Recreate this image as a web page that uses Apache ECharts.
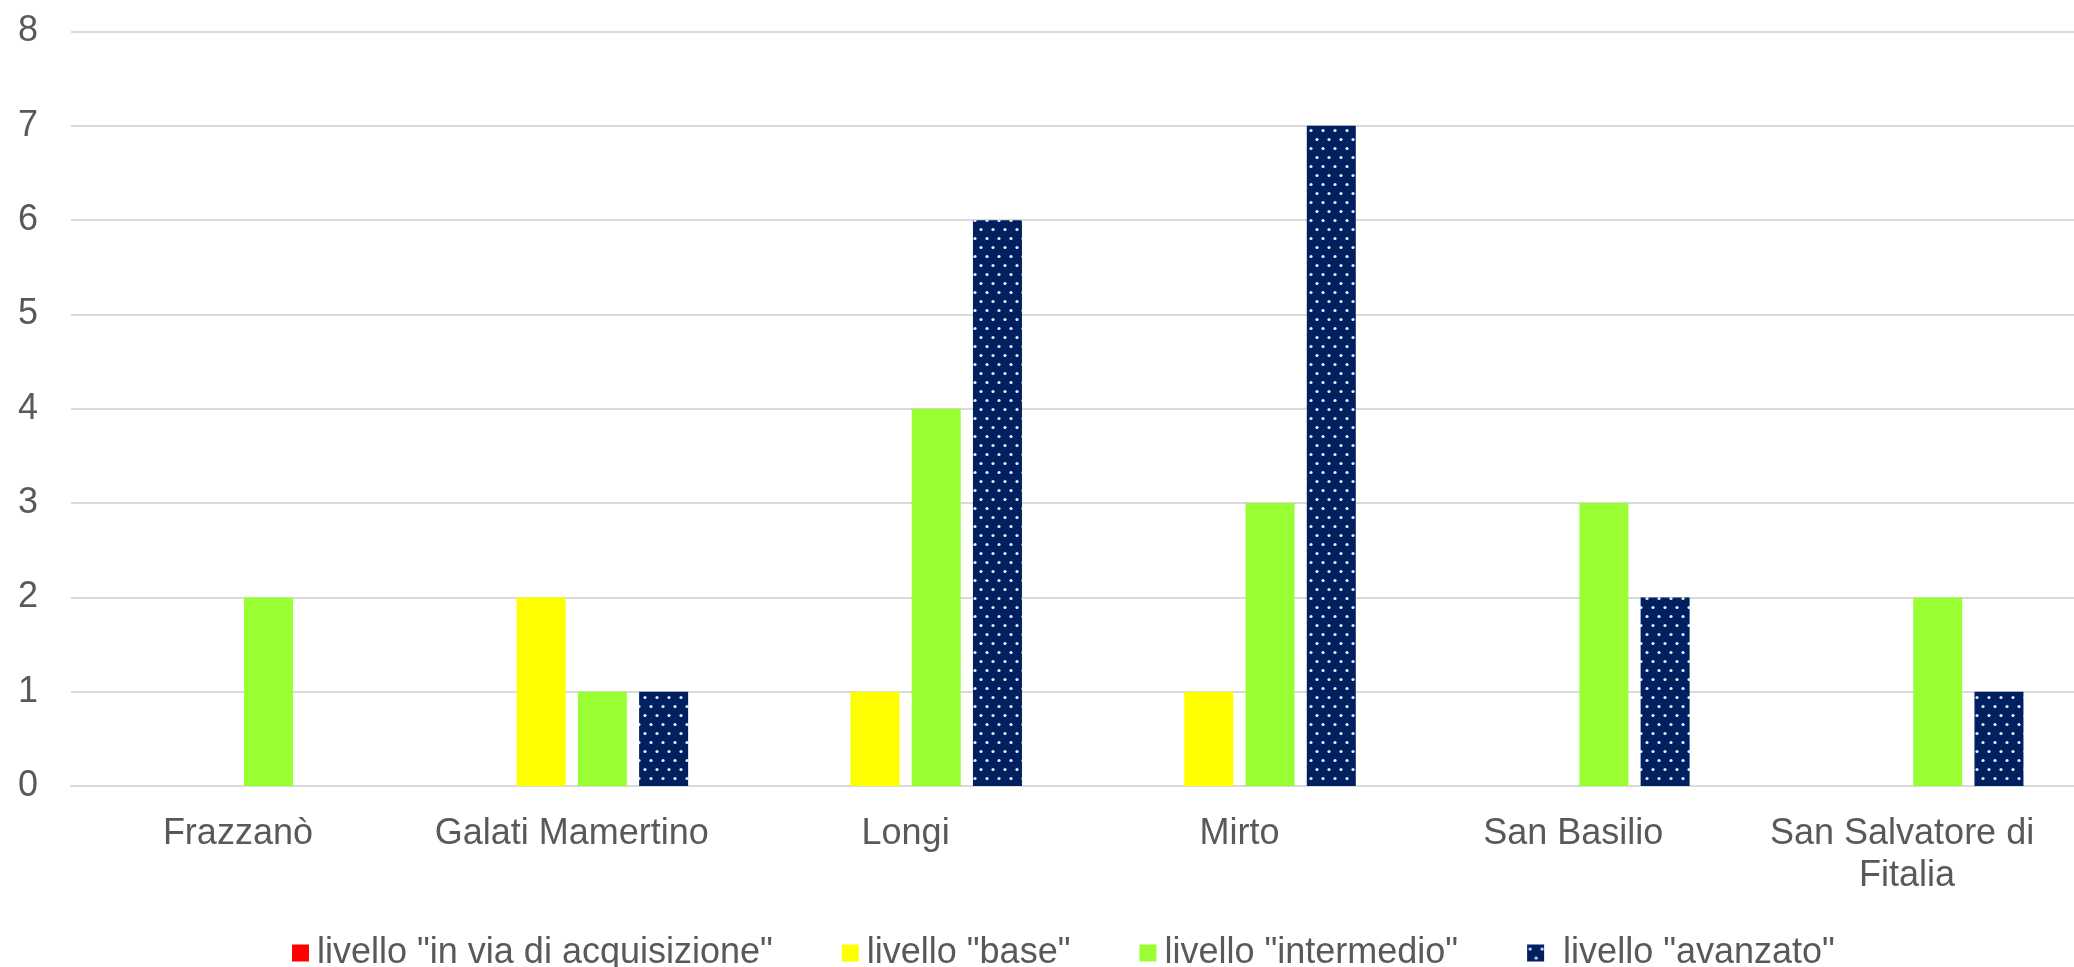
<!DOCTYPE html>
<html>
<head>
<meta charset="utf-8">
<script src="https://cdn.jsdelivr.net/npm/echarts@6/dist/echarts.min.js"></script>
<style>
  html, body { margin: 0; padding: 0; background: #ffffff; }
  #chart { width: 2074px; height: 967px; }
</style>
</head>
<body>
<div id="chart"></div>
<script>
// ---- data ----
const categories = ['Frazzanò', 'Galati Mamertino', 'Longi', 'Mirto', 'San Basilio', 'San Salvatore di Fitalia'];
const seriesNames = ['livello "in via di acquisizione"', 'livello "base"', 'livello "intermedio"', 'livello "avanzato"'];
const inViaDiAcquisizione = [0, 0, 0, 0, 0, 0];
const base = [0, 2, 1, 1, 0, 0];
const intermedio = [2, 1, 4, 3, 3, 2];
const avanzato = [0, 1, 6, 7, 2, 1];
const yTicks = [0, 1, 2, 3, 4, 5, 6, 7, 8];

// ---- dotted pattern for "avanzato" ----
function makePattern() {
  const c = document.createElement('canvas');
  c.width = 12; c.height = 18;
  const ctx = c.getContext('2d');
  ctx.fillStyle = '#002060';
  ctx.fillRect(0, 0, 12, 18);
  ctx.fillStyle = '#e8ecf4';
  [[3, 4.5], [9, 13.5]].forEach(p => {
    ctx.beginPath();
    ctx.arc(p[0], p[1], 1.6, 0, Math.PI * 2);
    ctx.fill();
  });
  return c;
}
const patternCanvas = makePattern();

const font = "'Liberation Sans', Arial, sans-serif";
const textColor = '#595959';

const chart = echarts.init(document.getElementById('chart'), null, { renderer: 'canvas' });

const values = [inViaDiAcquisizione, base, intermedio, avanzato];
const colors = ['#ff0000', '#ffff00', '#99ff33', { image: patternCanvas, repeat: 'repeat' }];

chart.setOption({
  animation: false,
  backgroundColor: '#ffffff',
  grid: { left: 71, right: -13, top: 31.5, bottom: 181, containLabel: false },
  legend: {
    left: 287,
    top: 930,
    itemWidth: 17,
    itemHeight: 17,
    itemGap: 69,
    icon: 'rect',
    textStyle: { fontFamily: font, fontSize: 36, color: textColor, padding: [0, 0, 0, 3] },
    data: seriesNames.map((n, i) => i === 3
      ? { name: n, textStyle: { padding: [0, 0, 0, 14] } }
      : { name: n })
  },
  xAxis: {
    type: 'category',
    data: categories,
    axisLine: { lineStyle: { color: '#d9d9d9', width: 2 } },
    axisTick: { show: false },
    axisLabel: {
      interval: 0,
      margin: 27,
      fontFamily: font,
      fontSize: 36,
      color: textColor,
      lineHeight: 42,
      width: 320,
      overflow: 'break'
    }
  },
  yAxis: {
    type: 'value',
    min: 0,
    max: yTicks[yTicks.length - 1],
    interval: 1,
    axisLine: { show: false },
    axisTick: { show: false },
    splitLine: { lineStyle: { color: '#d9d9d9', width: 2 } },
    axisLabel: { margin: 33, fontFamily: font, fontSize: 36, color: textColor }
  },
  series: seriesNames.map((name, i) => ({
    name: name,
    type: 'bar',
    data: values[i],
    barWidth: 49,
    barGap: '25%',
    itemStyle: { color: colors[i] }
  }))
});
</script>
</body>
</html>
